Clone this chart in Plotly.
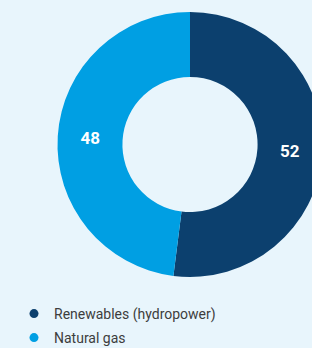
import plotly.graph_objects as go

labels = ["Renewables (hydropower)", "Natural gas"]
values = [52, 48]
colors = ["#0c406e", "#009fe3"]

W, H = 330, 370
cx, cy, r = 190, 144.5, 132.5
fig = go.Figure(go.Pie(
    labels=labels, values=values, hole=0.51, sort=False, direction="clockwise", rotation=0,
    marker=dict(colors=colors, line=dict(width=0)),
    textinfo="value", textposition="inside", insidetextorientation="horizontal",
    textfont=dict(family="Roboto", size=17, color="white", weight="bold"),
    domain=dict(x=[(cx-r)/W, (cx+r)/W], y=[(H-cy-r)/H, (H-cy+r)/H]),
    hoverinfo="skip", showlegend=False,
))
legend_rows = [314, 338]
for i, (lab, col) in enumerate(zip(labels, colors)):
    fig.add_trace(go.Scatter(x=[None], y=[None], mode="markers", name=lab,
                             legend="legend" if i == 0 else "legend2",
                             marker=dict(symbol="circle", size=9, color=col)))
fig.update_xaxes(visible=False)
fig.update_yaxes(visible=False)
leg = dict(xanchor="left", yanchor="middle",
           font=dict(family="Roboto", size=14, color="#3d3d3d"),
           bgcolor="rgba(0,0,0,0)", itemwidth=30)
fig.update_layout(
    width=W, height=H, margin=dict(l=0, r=0, t=0, b=0),
    paper_bgcolor="#e8f5fc", plot_bgcolor="#e8f5fc",
    showlegend=True,
    legend=dict(x=14/W, y=(H-legend_rows[0])/H, **leg),
    legend2=dict(x=14/W, y=(H-legend_rows[1])/H, **leg),
)
fig.write_html("out.html", config={"displayModeBar": False},
               post_script="document.body.style.margin='0';document.body.style.overflow='hidden';")
